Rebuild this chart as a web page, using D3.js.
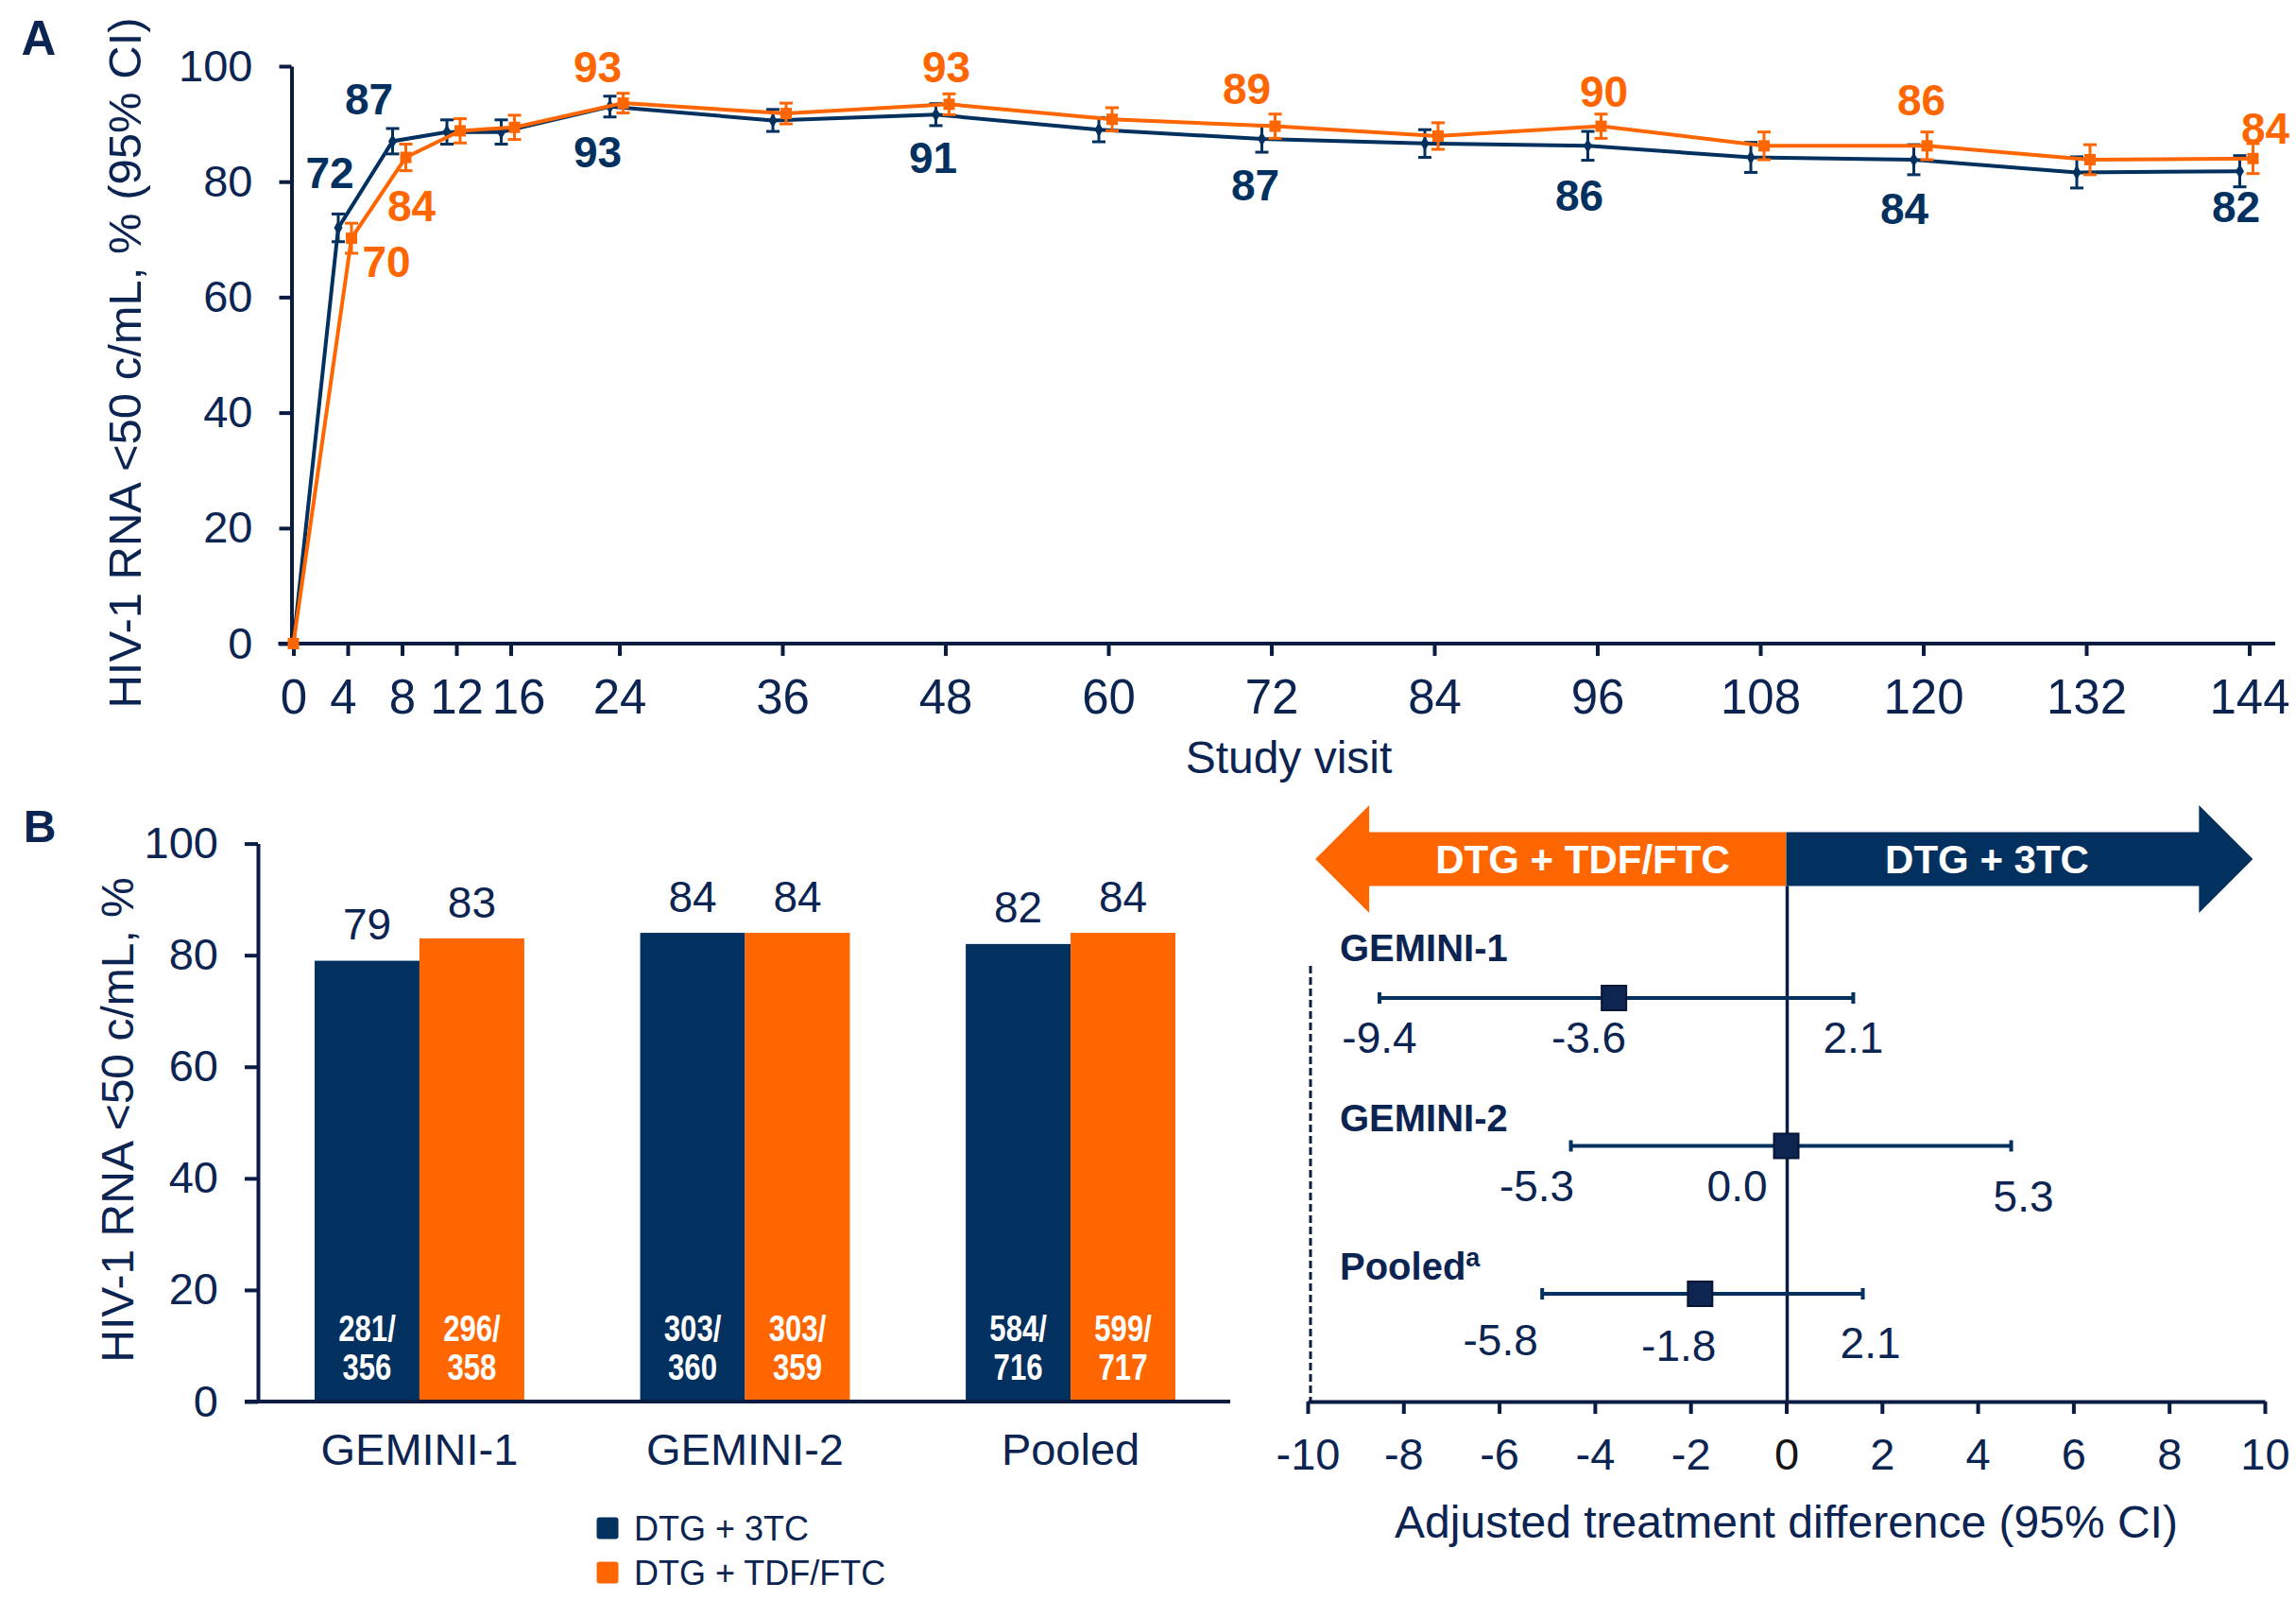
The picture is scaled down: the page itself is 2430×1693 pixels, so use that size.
<!DOCTYPE html>
<html>
<head>
<meta charset="utf-8">
<script src="https://cdn.jsdelivr.net/npm/d3@7"></script>
<style>
  body { margin: 0; background: #fff; }
</style>
</head>
<body>
<svg id="chart" width="2430" height="1693"></svg>
<script>
// ---- panel A: HIV-1 RNA <50 c/mL over time ----
const weeks = [0, 4, 8, 12, 16, 24, 36, 48, 60, 72, 84, 96, 108, 120, 132, 144];
const dtg3tc = [0, 72, 87, 88.6, 88.6, 93, 90.6, 91.6, 89, 87.4, 86.6, 86.2, 84.2, 83.8, 81.6, 81.8];
const dtg3tcCI = [0, 2.4, 2.2, 2.1, 2.1, 1.8, 1.9, 1.9, 2.1, 2.3, 2.4, 2.5, 2.6, 2.6, 2.7, 2.7];
const tdfFtc = [0, 70.2, 84.2, 88.8, 89.4, 93.6, 91.8, 93.4, 90.8, 89.6, 87.9, 89.6, 86.2, 86.2, 83.8, 84];
const tdfFtcCI = [0, 2.6, 2.3, 2.1, 2.1, 1.7, 1.8, 1.8, 2.0, 2.1, 2.3, 2.1, 2.4, 2.4, 2.6, 2.6];
const labelWeeks = [4, 8, 24, 48, 72, 96, 120, 144];
const dtg3tcLabels = ['72', '87', '93', '91', '87', '86', '84', '82'];
const tdfFtcLabels = ['70', '84', '93', '93', '89', '90', '86', '84'];
const xTicksA = [0, 4, 8, 12, 16, 24, 36, 48, 60, 72, 84, 96, 108, 120, 132, 144];
const yTicks = [0, 20, 40, 60, 80, 100];

// ---- panel B: week 144 snapshot ----
const studies = ['GEMINI-1', 'GEMINI-2', 'Pooled'];
const bar3tc = [79, 84, 82];
const barTdf = [83, 84, 84];
const resp3tc = [281, 303, 584];
const total3tc = [356, 360, 716];
const respTdf = [296, 303, 599];
const totalTdf = [358, 359, 717];

// ---- forest plot ----
const diffEst = [-3.6, 0.0, -1.8];
const diffLow = [-9.4, -5.3, -5.8];
const diffHigh = [2.1, 5.3, 2.1];
// whisker ends as drawn in the figure
const whiskerLow = [-8.5, -4.5, -5.1];
const whiskerHigh = [1.4, 4.7, 1.6];
const xTicksF = [-10, -8, -6, -4, -2, 0, 2, 4, 6, 8, 10];

const NAVY = '#02305f', ORANGE = '#ff6600', INK = '#0b2451', AXIS = '#0a1c42';
const FONT = '"Liberation Sans", Arial, sans-serif';

const svg = d3.select('#chart');

// the in-bar counts use a narrow face; squeeze Liberation Sans for that
function condense(sel, origin) {
  sel.style('transform-box', 'fill-box')
    .style('transform-origin', origin || 'center')
    .style('transform', 'scaleX(0.82)');
}

function styleAxis(g, size) {
  g.selectAll('path, line').attr('stroke', AXIS).attr('stroke-width', 4);
  g.selectAll('text').attr('fill', INK).style('font-family', FONT).style('font-size', size + 'px');
}

function addText(parent, x, y, str, size, opts) {
  opts = opts || {};
  return parent.append('text')
    .attr('x', x).attr('y', y).attr('dy', '0.36em')
    .attr('text-anchor', opts.anchor || 'middle')
    .style('font-family', FONT).style('font-size', size + 'px')
    .style('font-weight', opts.bold ? 'bold' : 'normal')
    .attr('fill', opts.fill || INK)
    .text(str);
}

// ================= Panel A =================
const xA = d3.scaleLinear().domain([0, 144]).range([310.5, 2380.5]);
const yA = d3.scaleLinear().domain([0, 100]).range([681, 70]);
const gA = svg.append('g');

gA.append('g')
  .attr('transform', `translate(${xA(0) - 2},0)`)
  .call(d3.axisLeft(yA).tickValues(yTicks).tickSize(13).tickPadding(28).tickSizeOuter(0))
  .call(g => styleAxis(g, 47));

gA.append('g')
  .attr('transform', `translate(0,${yA(0)})`)
  .call(d3.axisBottom(xA).tickValues(xTicksA).tickSize(13).tickPadding(25))
  .call(g => g.select('.domain').remove())
  .call(g => styleAxis(g, 51))
  // the crowded early-week labels are spread a little in the figure
  .call(g => g.selectAll('.tick text').attr('dx', d => d === 4 ? -5 : d === 16 ? 8 : 0));

gA.append('line')
  .attr('x1', xA(0) - 16).attr('x2', 2408)
  .attr('y1', yA(0)).attr('y2', yA(0))
  .attr('stroke', AXIS).attr('stroke-width', 4);

const seriesA = [
  { values: dtg3tc, ci: dtg3tcCI, color: NAVY, shift: -10, symbol: d3.symbolDiamond, size: 70,
    labels: dtg3tcLabels,
    nudge: [[-9, -59], [-25, -45], [-13, 48], [-3, 45], [-7, 48], [-9, 52], [-10, 51], [-4, 37]] },
  { values: tdfFtc, ci: tdfFtcCI, color: ORANGE, shift: 4, symbol: d3.symbolSquare, size: 144,
    labels: tdfFtcLabels,
    nudge: [[37, 24], [6, 51], [-27, -39], [-3, -40], [-30, -40], [3, -37], [-6, -49], [13, -32]] }
];

seriesA.forEach(s => {
  const pts = weeks.map((w, i) => ({ w, v: s.values[i], ci: s.ci[i] }));
  const px = d => xA(d.w) + (d.w === 0 ? 0 : s.shift);
  const g = gA.append('g');

  g.append('path')
    .datum(pts)
    .attr('fill', 'none')
    .attr('stroke', s.color)
    .attr('stroke-width', 4)
    .attr('d', d3.line().x(px).y(d => yA(d.v)));

  const eb = g.selectAll('.eb').data(pts.filter(d => d.ci > 0)).enter().append('g');
  eb.append('line')
    .attr('x1', px).attr('x2', px)
    .attr('y1', d => yA(d.v - d.ci)).attr('y2', d => yA(d.v + d.ci))
    .attr('stroke', s.color).attr('stroke-width', 3);
  [-1, 1].forEach(k => {
    eb.append('line')
      .attr('x1', d => px(d) - 7).attr('x2', d => px(d) + 7)
      .attr('y1', d => yA(d.v + k * d.ci)).attr('y2', d => yA(d.v + k * d.ci))
      .attr('stroke', s.color).attr('stroke-width', 3);
  });

  g.selectAll('.mk').data(pts).enter().append('path')
    .attr('transform', d => `translate(${px(d)},${yA(d.v)})`)
    .attr('d', d3.symbol(s.symbol, s.size))
    .attr('fill', s.color);

  labelWeeks.forEach((w, i) => {
    addText(g, px({ w }) + s.nudge[i][0], yA(s.values[weeks.indexOf(w)]) + s.nudge[i][1],
      s.labels[i], 46, { bold: true, fill: s.color });
  });
});

gA.append('text')
  .attr('transform', 'translate(131,384) rotate(-90)')
  .attr('text-anchor', 'middle').attr('dy', '0.36em')
  .style('font-family', FONT).style('font-size', '49px')
  .attr('fill', INK)
  .text('HIV-1 RNA <50 c/mL, % (95% CI)');

addText(gA, 1364, 801, 'Study visit', 48);

addText(svg, 41, 40, 'A', 51, { bold: true });
addText(svg, 42, 874, 'B', 48, { bold: true });

// ================= Panel B bars =================
const xB = d3.scaleBand().domain(studies).range([272, 1305]).paddingInner(0.356).paddingOuter(0.177);
const yB = d3.scaleLinear().domain([0, 100]).range([1483, 892.6]);
const gB = svg.append('g');

const barData = [];
studies.forEach((st, i) => {
  barData.push({ st, k: 0, v: bar3tc[i], n: resp3tc[i], t: total3tc[i], color: NAVY });
  barData.push({ st, k: 1, v: barTdf[i], n: respTdf[i], t: totalTdf[i], color: ORANGE });
});
const bw = xB.bandwidth() / 2;
const bx = d => xB(d.st) + d.k * bw;

gB.selectAll('.bar').data(barData).enter().append('rect')
  .attr('x', bx).attr('width', bw)
  .attr('y', d => yB(d.v)).attr('height', d => yB(0) - yB(d.v))
  .attr('fill', d => d.color);

barData.forEach(d => addText(gB, bx(d) + bw / 2, yB(d.v) - 39, d.v, 46));

barData.forEach(d => {
  addText(gB, bx(d) + bw / 2, yB(0) - 78, d.n + '/', 38, { bold: true, fill: '#fff' }).call(condense);
  addText(gB, bx(d) + bw / 2, yB(0) - 37, d.t, 38, { bold: true, fill: '#fff' }).call(condense);
});

gB.append('g')
  .attr('transform', `translate(273,0)`)
  .call(d3.axisLeft(yB).tickValues(yTicks).tickSize(14).tickPadding(28).tickSizeOuter(0))
  .call(g => styleAxis(g, 47));

gB.append('line')
  .attr('x1', 259).attr('x2', 1302)
  .attr('y1', yB(0)).attr('y2', yB(0))
  .attr('stroke', AXIS).attr('stroke-width', 4);

studies.forEach(st => addText(gB, xB(st) + xB.bandwidth() / 2, 1533, st, 47));

gB.append('text')
  .attr('transform', 'translate(124,1185) rotate(-90)')
  .attr('text-anchor', 'middle').attr('dy', '0.36em')
  .style('font-family', FONT).style('font-size', '48px')
  .attr('fill', INK)
  .text('HIV-1 RNA <50 c/mL, %');

const legend = gB.selectAll('.lg').data([
  { name: 'DTG + 3TC', color: NAVY },
  { name: 'DTG + TDF/FTC', color: ORANGE }
]).enter().append('g')
  .attr('transform', (d, i) => `translate(643,${1617 + i * 47})`);
legend.append('rect').attr('x', -11.5).attr('y', -11.5).attr('width', 23).attr('height', 23)
  .attr('rx', 3).attr('fill', d => d.color);
legend.each(function (d) { addText(d3.select(this), 28, 0, d.name, 36, { anchor: 'start' }); });

// ================= Forest plot =================
const xF = d3.scaleLinear().domain([-10, 10]).range([1384, 2397]);
const yF = d3.scalePoint().domain(studies).range([1056, 1369]);
const gF = svg.append('g');

// direction arrow
const ay = 909, body = 28.5, head = 57, headLen = 57;
const lt = xF(-9.84), rt = xF(9.75), z = xF(0);
gF.append('path')
  .attr('d', `M${lt},${ay} L${lt + headLen},${ay - head} L${lt + headLen},${ay - body} L${z},${ay - body} L${z},${ay + body} L${lt + headLen},${ay + body} L${lt + headLen},${ay + head} Z`)
  .attr('fill', ORANGE);
gF.append('path')
  .attr('d', `M${rt},${ay} L${rt - headLen},${ay - head} L${rt - headLen},${ay - body} L${z},${ay - body} L${z},${ay + body} L${rt - headLen},${ay + body} L${rt - headLen},${ay + head} Z`)
  .attr('fill', NAVY);
addText(gF, 1675, ay, 'DTG + TDF/FTC', 42, { bold: true, fill: '#fff' });
addText(gF, 2103, ay, 'DTG + 3TC', 42, { bold: true, fill: '#fff' });

// reference lines
gF.append('line')
  .attr('x1', z + 1).attr('x2', z + 1).attr('y1', ay + body).attr('y2', 1483)
  .attr('stroke', AXIS).attr('stroke-width', 3.5);
gF.append('line')
  .attr('x1', xF(-10) + 3).attr('x2', xF(-10) + 3).attr('y1', 1022).attr('y2', 1483)
  .attr('stroke', AXIS).attr('stroke-width', 3).attr('stroke-dasharray', '8,4');

gF.append('g')
  .attr('transform', `translate(0,1483)`)
  .call(d3.axisBottom(xF).tickValues(xTicksF).tickSize(13).tickPadding(26).tickSizeOuter(0)
    .tickFormat(d => String(d)))
  .call(g => styleAxis(g, 47))
  .call(g => g.selectAll('.tick text').filter(d => d === 0).attr('fill', '#141414'));

addText(gF, xF(0), 1610, 'Adjusted treatment difference (95% CI)', 48);

// label placement, as laid out in the figure
const rowLift = [53, 30, 29];
const lowLabel = [[0, 41], [-36, 42], [-44, 48]];
const estLabel = [[13, 41], [-20, 42], [17, 54]];
const highLabel = [[0, 41], [13, 53], [8, 51]];

const rows = gF.selectAll('.row').data(studies).enter().append('g')
  .attr('transform', d => `translate(0,${yF(d)})`);

rows.append('line')
  .attr('x1', (d, i) => xF(whiskerLow[i])).attr('x2', (d, i) => xF(whiskerHigh[i]))
  .attr('stroke', NAVY).attr('stroke-width', 4);
rows.append('line')
  .attr('x1', (d, i) => xF(whiskerLow[i])).attr('x2', (d, i) => xF(whiskerLow[i]))
  .attr('y1', -6).attr('y2', 6).attr('stroke', NAVY).attr('stroke-width', 4);
rows.append('line')
  .attr('x1', (d, i) => xF(whiskerHigh[i])).attr('x2', (d, i) => xF(whiskerHigh[i]))
  .attr('y1', -6).attr('y2', 6).attr('stroke', NAVY).attr('stroke-width', 4);
rows.append('rect')
  .attr('x', (d, i) => xF(diffEst[i]) - 13).attr('y', -13)
  .attr('width', 26).attr('height', 26)
  .attr('fill', '#0d2550').attr('stroke', '#071636').attr('stroke-width', 2);

const fmt = v => v.toFixed(1);
rows.each(function (st, i) {
  const row = d3.select(this);
  const lbl = addText(row, 1418, -rowLift[i], st, 40, { bold: true, anchor: 'start' });
  if (st === 'Pooled') {
    lbl.append('tspan').attr('dy', '-0.55em').style('font-size', '27px').text('a');
  }
  addText(row, xF(whiskerLow[i]) + lowLabel[i][0], lowLabel[i][1], fmt(diffLow[i]), 46);
  addText(row, xF(diffEst[i]) + estLabel[i][0], estLabel[i][1], fmt(diffEst[i]), 46, { anchor: 'end' });
  addText(row, xF(whiskerHigh[i]) + highLabel[i][0], highLabel[i][1], fmt(diffHigh[i]), 46);
});
</script>
</body>
</html>
